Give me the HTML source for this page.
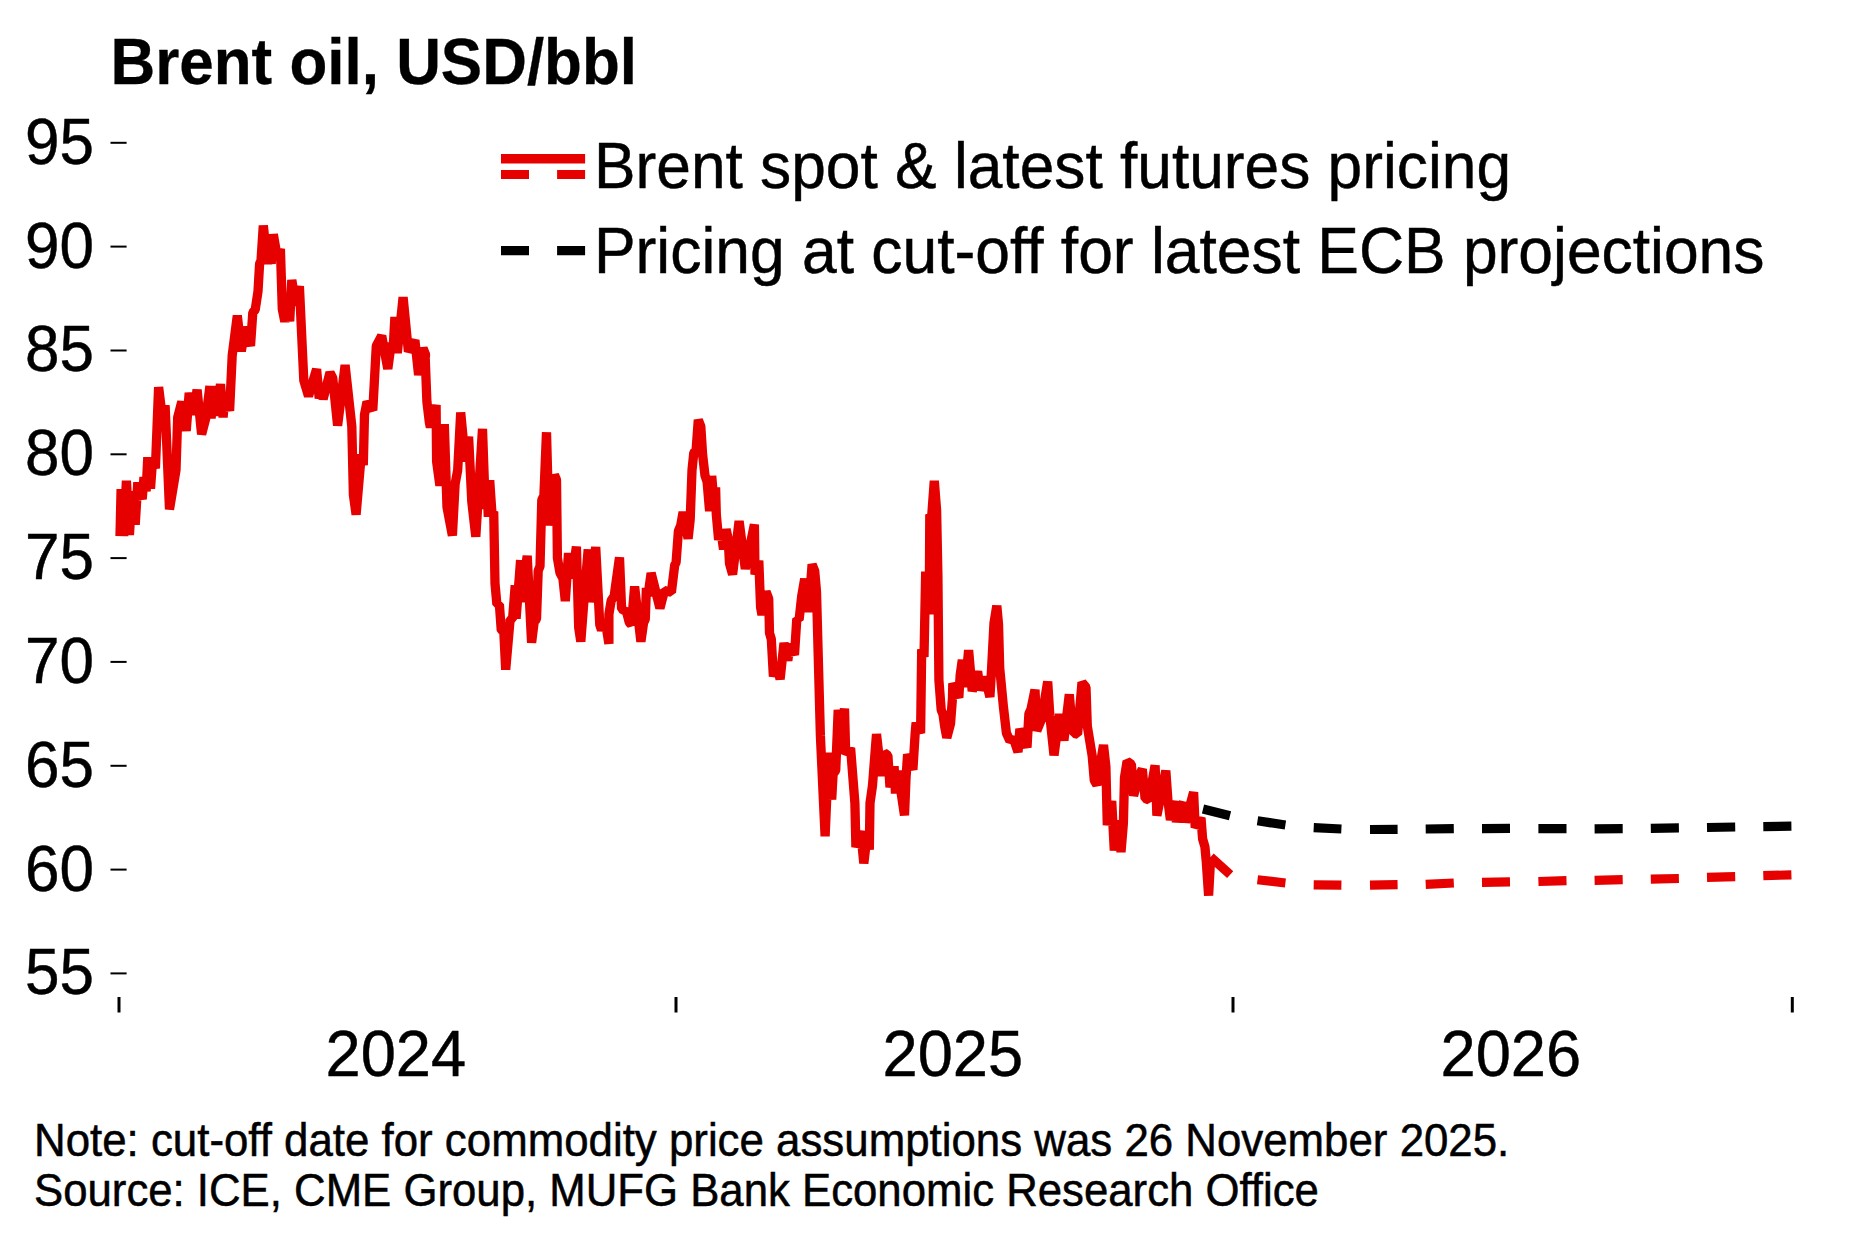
<!DOCTYPE html>
<html><head><meta charset="utf-8"><title>Brent oil</title>
<style>
html,body{margin:0;padding:0;background:#fff;}
svg{display:block;font-family:"Liberation Sans",Arial,sans-serif;fill:#000;}
</style></head><body>
<svg width="1875" height="1251" viewBox="0 0 1875 1251">
<rect width="1875" height="1251" fill="#fff"/>
<text transform="translate(110.5 83.8) scale(1 1.05)" font-size="62" textLength="526.5" lengthAdjust="spacingAndGlyphs" font-weight="bold" stroke="#000" stroke-width="0.3">Brent oil, USD/bbl</text>

<text transform="translate(94 163.7) scale(1 1.04)" font-size="62" text-anchor="end" stroke="#000" stroke-width="0.45">95</text>
<line x1="110.5" x2="126.6" y1="142.8" y2="142.8" stroke="#000" stroke-width="2"/>
<text transform="translate(94 267.5) scale(1 1.04)" font-size="62" text-anchor="end" stroke="#000" stroke-width="0.45">90</text>
<line x1="110.5" x2="126.6" y1="246.6" y2="246.6" stroke="#000" stroke-width="2"/>
<text transform="translate(94 371.4) scale(1 1.04)" font-size="62" text-anchor="end" stroke="#000" stroke-width="0.45">85</text>
<line x1="110.5" x2="126.6" y1="350.5" y2="350.5" stroke="#000" stroke-width="2"/>
<text transform="translate(94 475.2) scale(1 1.04)" font-size="62" text-anchor="end" stroke="#000" stroke-width="0.45">80</text>
<line x1="110.5" x2="126.6" y1="454.3" y2="454.3" stroke="#000" stroke-width="2"/>
<text transform="translate(94 579.0) scale(1 1.04)" font-size="62" text-anchor="end" stroke="#000" stroke-width="0.45">75</text>
<line x1="110.5" x2="126.6" y1="558.1" y2="558.1" stroke="#000" stroke-width="2"/>
<text transform="translate(94 682.8) scale(1 1.04)" font-size="62" text-anchor="end" stroke="#000" stroke-width="0.45">70</text>
<line x1="110.5" x2="126.6" y1="661.9" y2="661.9" stroke="#000" stroke-width="2"/>
<text transform="translate(94 786.6) scale(1 1.04)" font-size="62" text-anchor="end" stroke="#000" stroke-width="0.45">65</text>
<line x1="110.5" x2="126.6" y1="765.8" y2="765.8" stroke="#000" stroke-width="2"/>
<text transform="translate(94 890.5) scale(1 1.04)" font-size="62" text-anchor="end" stroke="#000" stroke-width="0.45">60</text>
<line x1="110.5" x2="126.6" y1="869.6" y2="869.6" stroke="#000" stroke-width="2"/>
<text transform="translate(94 994.3) scale(1 1.04)" font-size="62" text-anchor="end" stroke="#000" stroke-width="0.45">55</text>
<line x1="110.5" x2="126.6" y1="973.4" y2="973.4" stroke="#000" stroke-width="2"/>
<line x1="119" x2="119" y1="997" y2="1012.5" stroke="#000" stroke-width="3"/>
<line x1="676" x2="676" y1="997" y2="1012.5" stroke="#000" stroke-width="3"/>
<line x1="1233" x2="1233" y1="997" y2="1012.5" stroke="#000" stroke-width="3"/>
<line x1="1792.3" x2="1792.3" y1="997" y2="1012.5" stroke="#000" stroke-width="3"/>
<text transform="translate(395.8 1076.2) scale(1 1.04)" font-size="62" text-anchor="middle" textLength="140.6" lengthAdjust="spacingAndGlyphs" stroke="#000" stroke-width="0.45">2024</text>
<text transform="translate(952.8 1076.2) scale(1 1.04)" font-size="62" text-anchor="middle" textLength="140.6" lengthAdjust="spacingAndGlyphs" stroke="#000" stroke-width="0.45">2025</text>
<text transform="translate(1510.8 1076.2) scale(1 1.04)" font-size="62" text-anchor="middle" textLength="140.6" lengthAdjust="spacingAndGlyphs" stroke="#000" stroke-width="0.45">2026</text>

<!-- legend -->
<line x1="501" x2="585.1" y1="158.7" y2="158.7" stroke="#e60000" stroke-width="9.4"/>
<line x1="501" x2="585.1" y1="174.45" y2="174.45" stroke="#e60000" stroke-width="9.1" stroke-dasharray="28 28.1"/>
<line x1="501" x2="585.1" y1="250.65" y2="250.65" stroke="#000" stroke-width="9.3" stroke-dasharray="28 28.1"/>
<text transform="translate(594 188.4) scale(1 1.04)" font-size="62" textLength="917" lengthAdjust="spacingAndGlyphs" stroke="#000" stroke-width="0.45">Brent spot &amp; latest futures pricing</text>

<text transform="translate(594 273.4) scale(1 1.04)" font-size="62" textLength="1170.5" lengthAdjust="spacingAndGlyphs" stroke="#000" stroke-width="0.45">Pricing at cut-off for latest ECB projections</text>

<!-- series -->
<polyline fill="none" stroke="#e60000" stroke-width="9.3" stroke-linejoin="bevel" points="120.0,536.1 121.1,489.1 123.7,536.1 126.4,480.7 129.4,534.9 132.2,491.2 135.2,524.7 137.8,482.4 142.2,499.2 144.0,477.2 146.1,491.2 147.8,457.3 150.5,488.6 152.6,459.6 155.4,468.4 158.6,387.1 161.9,413.9 165.1,405.4 169.5,509.4 176.0,470.1 177.7,417.4 181.8,401.6 186.2,430.9 189.2,392.8 193.2,414.7 197.1,389.8 201.6,434.4 206.0,417.4 209.9,386.1 211.1,418.3 214.0,386.1 216.9,415.6 220.5,384.0 223.1,417.4 225.2,392.8 229.6,410.9 232.2,355.6 237.3,315.5 241.3,351.2 245.4,327.0 250.5,346.0 252.8,312.5 255.2,309.9 258.0,291.4 259.6,263.7 261.0,260.7 263.3,225.5 267.4,263.7 269.5,252.8 271.2,263.7 273.3,234.3 277.4,258.0 280.4,248.9 282.3,309.0 284.8,321.7 287.6,305.5 289.7,321.3 291.8,280.0 295.8,305.5 299.4,286.2 303.8,380.3 308.5,396.1 316.6,369.2 319.2,398.4 321.3,389.9 323.1,399.1 330.0,372.5 332.7,377.8 337.6,425.6 345.1,365.1 351.8,426.2 353.4,494.8 356.1,514.5 361.3,454.3 363.3,465.2 364.5,414.7 367.0,401.9 372.8,410.3 376.3,346.0 381.7,335.8 387.8,368.8 391.3,342.8 393.1,349.5 394.9,316.9 397.3,353.0 403.1,297.3 408.4,351.6 414.9,340.2 418.6,375.0 423.0,348.1 425.6,354.8 425.2,357.6 426.9,401.6 429.4,422.7 430.4,427.1 436.1,405.1 436.6,461.3 439.9,485.6 444.3,424.1 447.0,507.1 452.4,535.6 455.1,484.2 457.7,470.1 460.7,412.5 465.3,461.3 468.6,436.7 471.8,501.8 475.8,536.6 482.5,428.8 485.3,508.8 487.1,489.5 488.3,516.7 489.7,480.3 492.0,514.1 493.7,511.5 495.0,583.5 496.9,604.3 499.4,604.7 501.3,630.7 503.8,631.6 505.7,669.7 510.1,619.6 512.6,618.7 515.2,585.3 516.1,618.7 520.6,560.2 521.0,602.0 527.2,555.8 531.6,642.8 534.2,621.7 536.5,619.1 538.2,570.7 540.0,566.3 541.8,500.0 543.9,495.6 546.5,432.3 549.0,525.5 554.4,474.9 556.5,479.8 557.4,558.0 560.0,573.0 562.9,578.3 565.3,601.1 568.5,553.1 572.0,578.3 576.4,546.6 578.7,627.5 580.8,641.6 584.3,595.9 588.2,549.3 589.6,602.2 595.7,547.0 599.8,624.9 601.5,630.2 605.1,619.6 608.9,643.7 608.9,614.3 611.2,600.6 614.2,595.9 619.5,557.5 621.6,609.0 626.5,611.7 629.2,622.2 631.4,624.9 634.6,586.5 640.9,641.6 643.6,622.6 645.3,619.1 646.4,587.9 648.0,595.9 651.1,573.0 659.9,608.2 664.5,590.6 671.4,592.2 674.7,565.1 676.1,562.4 678.4,531.1 680.7,525.5 683.1,512.2 688.1,538.7 690.2,519.6 692.0,470.3 693.8,452.8 696.1,450.1 698.3,419.9 700.8,426.4 702.6,454.5 705.0,475.6 707.1,481.8 709.6,511.1 711.7,476.0 713.6,498.5 715.6,487.4 716.3,514.3 718.6,539.8 721.0,531.0 723.5,549.5 726.1,529.3 728.2,538.9 729.5,563.5 732.6,574.5 739.1,521.0 745.3,568.8 754.4,524.5 755.0,574.5 758.8,560.7 760.6,607.5 762.0,614.9 766.0,591.7 768.7,598.7 769.5,633.0 771.3,639.1 773.4,676.4 776.6,665.5 780.1,679.2 784.0,643.0 787.8,660.6 790.1,644.1 794.5,655.0 796.8,618.9 799.1,619.8 801.6,596.9 804.7,578.8 808.6,611.9 812.1,564.4 814.7,570.9 816.5,591.7 818.3,658.5 820.4,735.9 825.1,836.2 828.7,752.8 831.7,799.6 833.1,774.1 835.7,770.6 838.2,709.9 841.3,732.8 844.5,708.5 845.7,754.2 850.6,748.2 854.9,803.1 855.9,847.1 860.7,831.2 863.8,863.4 867.2,834.8 869.3,849.7 870.0,803.1 872.5,785.5 876.5,734.0 881.2,775.8 884.1,752.8 887.9,755.6 890.0,787.3 894.1,766.2 895.5,793.4 897.8,770.6 904.5,815.4 906.0,778.5 907.6,754.2 912.9,769.7 915.2,732.8 916.1,722.6 920.6,733.3 921.7,649.4 924.0,656.8 925.7,571.6 929.2,614.2 929.8,514.5 931.7,516.1 934.3,480.9 936.6,510.4 937.9,575.5 938.9,680.0 941.2,709.9 943.0,714.3 944.7,726.6 946.8,737.7 950.5,723.9 952.5,697.6 952.8,683.3 958.8,697.6 960.2,674.9 962.3,659.9 965.3,687.0 968.6,650.1 972.2,691.2 977.6,671.4 980.1,690.2 985.0,677.2 989.9,697.0 991.1,677.5 994.0,623.0 996.8,605.8 998.5,624.0 999.7,667.9 1003.4,706.6 1006.4,733.0 1009.9,740.9 1013.4,738.3 1018.0,752.0 1019.9,729.0 1027.0,747.4 1028.9,713.7 1031.0,709.3 1035.0,689.6 1036.8,730.7 1041.6,718.9 1047.7,681.6 1049.8,715.4 1054.0,755.3 1059.5,714.0 1063.9,740.4 1069.3,694.3 1071.4,718.9 1074.1,733.5 1077.6,734.1 1082.0,682.4 1086.0,687.3 1087.3,726.0 1092.2,755.9 1094.3,780.5 1096.9,784.9 1103.5,745.0 1105.9,766.8 1107.3,825.2 1111.7,801.1 1114.3,850.4 1117.5,820.6 1121.0,852.1 1123.4,823.1 1124.5,777.4 1127.1,761.2 1131.4,764.2 1133.6,795.8 1138.4,777.4 1142.3,769.1 1145.1,798.5 1148.9,799.9 1155.1,765.4 1156.9,815.5 1165.8,770.7 1167.9,800.2 1170.4,819.9 1175.5,801.1 1176.4,822.2 1178.5,810.8 1183.4,802.7 1185.5,822.2 1193.6,792.2 1195.2,827.5 1201.0,817.8 1202.6,838.9 1204.9,846.8 1206.3,861.8 1208.6,895.6 1210.7,857.0"/>
<polyline fill="none" stroke="#e60000" stroke-width="9.2" points="1210.6,857.0 1230.2,874.6"/>
<path d="M1203 809L1230 815.7 M1257.5 820.8L1285.4 825 M1313.7 827.7L1341.4 829 M1370 829.5L1397.6 829.3 M1425.7 829L1453.8 828.6 M1482 828.6L1510 828.4 M1538.4 828.6L1566.5 828.6 M1594.6 828.8L1622.7 828.6 M1650.8 828.4L1678.9 827.9 M1707 827.5L1735.2 827 M1763.3 826.6L1791.4 826.2" stroke="#000" stroke-width="9.2" fill="none"/>
<path d="M1257.5 879.7L1285.4 883 M1313.7 884.8L1341.4 885.2 M1370 885.2L1397.6 884.6 M1425.7 884.3L1453.8 883 M1482 882.4L1510 881.9 M1538.4 881.5L1566.5 880.6 M1594.6 880.3L1622.7 879.7 M1650.8 879.2L1678.9 878.5 M1707 877.4L1735.2 876.6 M1763.3 875.7L1791.4 874.8" stroke="#e60000" stroke-width="9.2" fill="none"/>
<!-- notes -->
<text transform="translate(34 1155.5) scale(1 1.055)" font-size="43.75" textLength="1475.3" lengthAdjust="spacingAndGlyphs" stroke="#000" stroke-width="0.5">Note: cut-off date for commodity price assumptions was 26 November 2025.</text>

<text transform="translate(34 1205.5) scale(1 1.055)" font-size="43.75" stroke="#000" stroke-width="0.5">Source: ICE, CME Group, MUFG Bank Economic Research Office</text>

</svg>
</body></html>
